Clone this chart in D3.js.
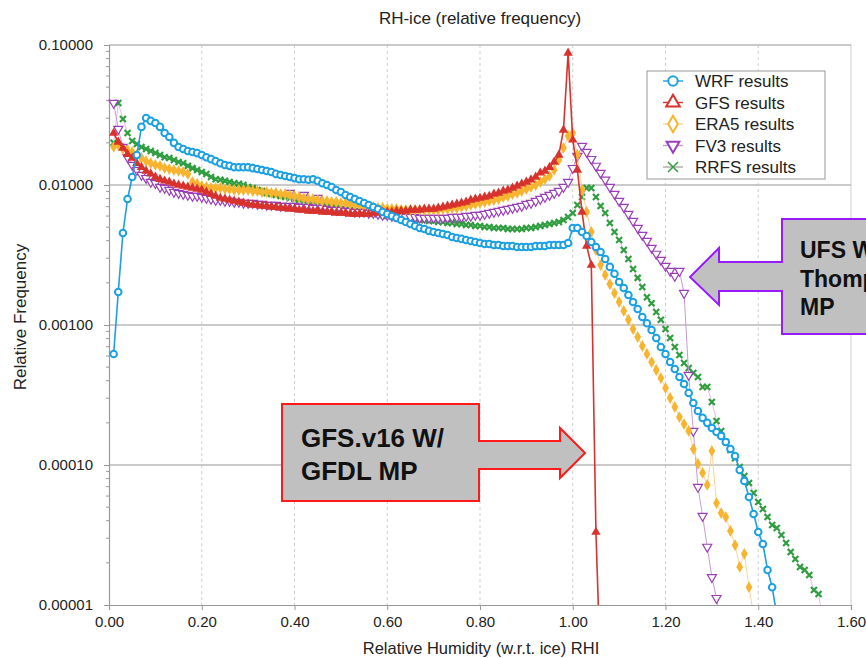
<!DOCTYPE html>
<html>
<head>
<meta charset="utf-8">
<script src="https://cdn.jsdelivr.net/npm/d3@7"></script>
<style>
  body { margin: 0; background: #fff; }
  text { font-family: "Liberation Sans", Arial, Helvetica, sans-serif; }
</style>
</head>
<body>
<svg id="chart" width="866" height="658"></svg>
<script>
// relative humidity w.r.t. ice, one bin per 0.01
const rhi = [
  0.01, 0.02, 0.03, 0.04, 0.05, 0.06, 0.07, 0.08, 0.09, 0.10,
  0.11, 0.12, 0.13, 0.14, 0.15, 0.16, 0.17, 0.18, 0.19, 0.20,
  0.21, 0.22, 0.23, 0.24, 0.25, 0.26, 0.27, 0.28, 0.29, 0.30,
  0.31, 0.32, 0.33, 0.34, 0.35, 0.36, 0.37, 0.38, 0.39, 0.40,
  0.41, 0.42, 0.43, 0.44, 0.45, 0.46, 0.47, 0.48, 0.49, 0.50,
  0.51, 0.52, 0.53, 0.54, 0.55, 0.56, 0.57, 0.58, 0.59, 0.60,
  0.61, 0.62, 0.63, 0.64, 0.65, 0.66, 0.67, 0.68, 0.69, 0.70,
  0.71, 0.72, 0.73, 0.74, 0.75, 0.76, 0.77, 0.78, 0.79, 0.80,
  0.81, 0.82, 0.83, 0.84, 0.85, 0.86, 0.87, 0.88, 0.89, 0.90,
  0.91, 0.92, 0.93, 0.94, 0.95, 0.96, 0.97, 0.98, 0.99, 1.00,
  1.01, 1.02, 1.03, 1.04, 1.05, 1.06, 1.07, 1.08, 1.09, 1.10,
  1.11, 1.12, 1.13, 1.14, 1.15, 1.16, 1.17, 1.18, 1.19, 1.20,
  1.21, 1.22, 1.23, 1.24, 1.25, 1.26, 1.27, 1.28, 1.29, 1.30,
  1.31, 1.32, 1.33, 1.34, 1.35, 1.36, 1.37, 1.38, 1.39, 1.40,
  1.41, 1.42, 1.43, 1.44, 1.45, 1.46, 1.47, 1.48, 1.49, 1.50,
  1.51, 1.52, 1.53, 1.54
];

const wrfResults = [
  0.000621, 0.00172, 0.00454, 0.00794, 0.0114, 0.0164, 0.0260, 0.0301, 0.0287, 0.0277,
  0.0260, 0.0235, 0.0220, 0.0200, 0.0187, 0.0181, 0.0175, 0.0172, 0.0169, 0.0164,
  0.0158, 0.0153, 0.0148, 0.0143, 0.0139, 0.0137, 0.0134, 0.0134, 0.0134, 0.0134,
  0.0132, 0.0130, 0.0128, 0.0126, 0.0124, 0.0120, 0.0118, 0.0116, 0.0114, 0.0112,
  0.0110, 0.0110, 0.0109, 0.0110, 0.0107, 0.0103, 0.0100, 0.00968, 0.00921, 0.00891,
  0.00848, 0.00821, 0.00794, 0.00769, 0.00744, 0.00720, 0.00697, 0.00674, 0.00642, 0.00621,
  0.00601, 0.00582, 0.00562, 0.00544, 0.00527, 0.00510, 0.00493, 0.00485, 0.00470, 0.00462,
  0.00454, 0.00447, 0.00439, 0.00425, 0.00418, 0.00412, 0.00405, 0.00398, 0.00392, 0.00385,
  0.00379, 0.00379, 0.00373, 0.00373, 0.00367, 0.00367, 0.00367, 0.00361, 0.00361, 0.00361,
  0.00361, 0.00367, 0.00367, 0.00367, 0.00373, 0.00373, 0.00373, 0.00373, 0.00385, 0.00493,
  0.00493, 0.00462, 0.00432, 0.00392, 0.00361, 0.00332, 0.00296, 0.00260, 0.00232, 0.00203,
  0.00184, 0.00164, 0.00146, 0.00130, 0.00114, 0.00103, 0.000921, 0.000807, 0.000697, 0.000621,
  0.000544, 0.000485, 0.000425, 0.000379, 0.000327, 0.000277, 0.000243, 0.000217, 0.000200, 0.000184,
  0.000172, 0.000161, 0.000146, 0.000130, 0.000116, 0.0000921, 0.0000769, 0.0000591, 0.0000447, 0.0000332,
  0.0000273, 0.0000178, 0.0000134, 0.0000085
];

const gfsResults = [
  0.0235, 0.0203, 0.0184, 0.0166, 0.0156, 0.0143, 0.0134, 0.0126, 0.0120, 0.0114,
  0.0110, 0.0107, 0.0105, 0.0102, 0.0100, 0.00984, 0.00968, 0.00952, 0.00936, 0.00921,
  0.00891, 0.00862, 0.00834, 0.00807, 0.00794, 0.00781, 0.00769, 0.00756, 0.00744, 0.00732,
  0.00720, 0.00720, 0.00708, 0.00708, 0.00697, 0.00697, 0.00685, 0.00685, 0.00674, 0.00674,
  0.00663, 0.00663, 0.00652, 0.00652, 0.00652, 0.00642, 0.00642, 0.00642, 0.00631, 0.00631,
  0.00631, 0.00621, 0.00621, 0.00621, 0.00621, 0.00621, 0.00631, 0.00631, 0.00642, 0.00642,
  0.00642, 0.00652, 0.00652, 0.00652, 0.00663, 0.00663, 0.00663, 0.00674, 0.00674, 0.00674,
  0.00685, 0.00697, 0.00708, 0.00720, 0.00732, 0.00744, 0.00756, 0.00781, 0.00794, 0.00807,
  0.00821, 0.00834, 0.00862, 0.00877, 0.00906, 0.00921, 0.00952, 0.00984, 0.0102, 0.0105,
  0.0109, 0.0114, 0.0122, 0.0126, 0.0134, 0.0146, 0.0164, 0.0247, 0.0877, 0.0210,
  0.0128, 0.00642, 0.00367, 0.00268, 0.0000332, 0.0000032
];

const era5Results = [
  0.0187, 0.0193, 0.0181, 0.0178, 0.0172, 0.0164, 0.0156, 0.0148, 0.0143, 0.0139,
  0.0137, 0.0132, 0.0130, 0.0128, 0.0126, 0.0124, 0.0120, 0.0105, 0.0102, 0.00984,
  0.00968, 0.00952, 0.00952, 0.00952, 0.00936, 0.00936, 0.00921, 0.00921, 0.00921, 0.00921,
  0.00906, 0.00906, 0.00891, 0.00891, 0.00877, 0.00877, 0.00862, 0.00862, 0.00848, 0.00834,
  0.00821, 0.00807, 0.00794, 0.00794, 0.00781, 0.00769, 0.00769, 0.00756, 0.00756, 0.00744,
  0.00744, 0.00732, 0.00720, 0.00720, 0.00708, 0.00697, 0.00697, 0.00685, 0.00685, 0.00674,
  0.00674, 0.00674, 0.00663, 0.00663, 0.00663, 0.00663, 0.00663, 0.00663, 0.00663, 0.00663,
  0.00663, 0.00674, 0.00674, 0.00685, 0.00685, 0.00697, 0.00708, 0.00720, 0.00732, 0.00744,
  0.00756, 0.00769, 0.00781, 0.00794, 0.00821, 0.00834, 0.00862, 0.00877, 0.00906, 0.00936,
  0.00968, 0.0100, 0.0105, 0.0110, 0.0116, 0.0128, 0.0151, 0.0184, 0.0224, 0.0235,
  0.0164, 0.00921, 0.00642, 0.00462, 0.00343, 0.00268, 0.00228, 0.00196, 0.00169, 0.00146,
  0.00126, 0.00109, 0.000936, 0.000821, 0.000708, 0.000621, 0.000544, 0.000477, 0.000418, 0.000355,
  0.000301, 0.000260, 0.000220, 0.000196, 0.000175, 0.000130, 0.000102, 0.0000877, 0.0000720, 0.000126,
  0.0000535, 0.0000454, 0.0000425, 0.0000338, 0.0000268, 0.0000187, 0.0000232, 0.0000134, 0.0000085
];

const fv3Results = [
  0.0385, 0.0251, 0.0187, 0.0158, 0.0139, 0.0128, 0.0118, 0.0112, 0.0105, 0.0103,
  0.00968, 0.00952, 0.00921, 0.00891, 0.00877, 0.00862, 0.00848, 0.00834, 0.00834, 0.00821,
  0.00807, 0.00794, 0.00781, 0.00781, 0.00769, 0.00769, 0.00756, 0.00756, 0.00744, 0.00744,
  0.00744, 0.00732, 0.00732, 0.00720, 0.00720, 0.00720, 0.00708, 0.00708, 0.00877, 0.00708,
  0.00697, 0.00848, 0.00697, 0.00685, 0.00807, 0.00685, 0.00674, 0.00663, 0.00663, 0.00663,
  0.00652, 0.00652, 0.00642, 0.00642, 0.00642, 0.00631, 0.00631, 0.00621, 0.00611, 0.00611,
  0.00601, 0.00601, 0.00591, 0.00591, 0.00591, 0.00591, 0.00582, 0.00582, 0.00582, 0.00582,
  0.00582, 0.00582, 0.00582, 0.00591, 0.00591, 0.00591, 0.00601, 0.00601, 0.00611, 0.00611,
  0.00621, 0.00631, 0.00642, 0.00652, 0.00663, 0.00674, 0.00685, 0.00697, 0.00708, 0.00732,
  0.00744, 0.00769, 0.00794, 0.00821, 0.00848, 0.00877, 0.00906, 0.00968, 0.0105, 0.0132,
  0.0161, 0.0190, 0.0172, 0.0153, 0.0137, 0.0122, 0.0109, 0.00968, 0.00862, 0.00769,
  0.00697, 0.00621, 0.00553, 0.00493, 0.00439, 0.00398, 0.00355, 0.00322, 0.00291, 0.00264,
  0.00243, 0.00224, 0.00243, 0.00169, 0.000439, 0.000175, 0.0000697, 0.0000432, 0.0000260, 0.0000158,
  0.0000112, 0.0000065
];

const rrfsResults = [
  0.0200, 0.0385, 0.0296, 0.0235, 0.0206, 0.0196, 0.0187, 0.0181, 0.0175, 0.0169,
  0.0164, 0.0158, 0.0156, 0.0151, 0.0146, 0.0143, 0.0137, 0.0132, 0.0128, 0.0124,
  0.0120, 0.0114, 0.0110, 0.0109, 0.0107, 0.0105, 0.0103, 0.0102, 0.0100, 0.00968,
  0.00952, 0.00921, 0.00906, 0.00877, 0.00862, 0.00848, 0.00834, 0.00821, 0.00807, 0.00794,
  0.00781, 0.00769, 0.00756, 0.00744, 0.00732, 0.00720, 0.00708, 0.00697, 0.00685, 0.00674,
  0.00663, 0.00663, 0.00652, 0.00642, 0.00642, 0.00631, 0.00621, 0.00621, 0.00611, 0.00601,
  0.00601, 0.00591, 0.00582, 0.00582, 0.00572, 0.00572, 0.00562, 0.00562, 0.00553, 0.00553,
  0.00544, 0.00544, 0.00535, 0.00535, 0.00527, 0.00527, 0.00518, 0.00518, 0.00510, 0.00510,
  0.00501, 0.00501, 0.00493, 0.00493, 0.00493, 0.00485, 0.00485, 0.00485, 0.00485, 0.00493,
  0.00493, 0.00501, 0.00510, 0.00518, 0.00527, 0.00535, 0.00544, 0.00562, 0.00591, 0.00631,
  0.00720, 0.00821, 0.00952, 0.00952, 0.00821, 0.00708, 0.00631, 0.00535, 0.00462, 0.00405,
  0.00343, 0.00296, 0.00251, 0.00217, 0.00187, 0.00158, 0.00143, 0.00124, 0.00109, 0.000936,
  0.000807, 0.000697, 0.000611, 0.000535, 0.000493, 0.000454, 0.000425, 0.000361, 0.000361, 0.000282,
  0.000206, 0.000175, 0.000146, 0.000128, 0.000112, 0.0000968, 0.0000834, 0.0000744, 0.0000631, 0.0000544,
  0.0000485, 0.0000425, 0.0000373, 0.0000355, 0.0000316, 0.0000277, 0.0000239, 0.0000213, 0.0000187, 0.0000178,
  0.0000164, 0.0000128, 0.0000120, 0.0000075
];

const xTicks = [0, 0.2, 0.4, 0.6, 0.8, 1.0, 1.2, 1.4, 1.6];
const yTicks = [0.00001, 0.0001, 0.001, 0.01, 0.1];

const svg = d3.select('#chart');
const plotLeft = 109, plotRight = 851, plotTop = 45, plotBottom = 605;

let x = d3.scaleLinear().domain([0, 1.6]).range([plotLeft, plotRight]);
let y = d3.scaleLog().domain([0.00001, 0.1]).range([plotBottom, plotTop]);

// grid
svg.append('g').selectAll('line')
    .data(xTicks.slice(1))
    .enter().append('line')
    .attr('x1', d => x(d)).attr('x2', d => x(d))
    .attr('y1', plotTop).attr('y2', plotBottom)
    .attr('stroke', '#cfcfcf')
    .attr('stroke-dasharray', d => d === 1.6 ? null : '3,3');

svg.append('g').selectAll('line')
    .data(yTicks.slice(1))
    .enter().append('line')
    .attr('x1', plotLeft).attr('x2', plotRight)
    .attr('y1', d => y(d)).attr('y2', d => y(d))
    .attr('stroke', '#b8b8b8')
    .attr('stroke-width', 1.3);

// axes
let xAxis = d3.axisBottom(x).tickValues(xTicks).tickFormat(d3.format('.2f')).tickSize(5).tickPadding(6);
let yAxis = d3.axisLeft(y).tickValues(yTicks).tickFormat(d3.format('.5f')).tickSize(5).tickPadding(11);

let gx = svg.append('g').attr('transform', 'translate(0,' + plotBottom + ')').call(xAxis);
let gy = svg.append('g').attr('transform', 'translate(' + plotLeft + ',0)').call(yAxis);
[gx, gy].forEach(function(g) {
    g.select('.domain').attr('stroke', '#999').attr('stroke-width', 1.2);
    g.selectAll('.tick line').attr('stroke', '#999');
    g.selectAll('.tick text').attr('fill', '#222').style('font-size', '15px');
});

// minor log ticks
let minor = [];
yTicks.slice(0, -1).forEach(function(d) {
    for (let k = 2; k < 10; k++) minor.push(d * k);
});
svg.append('g').selectAll('line')
    .data(minor)
    .enter().append('line')
    .attr('x1', plotLeft - 3).attr('x2', plotLeft)
    .attr('y1', d => y(d)).attr('y2', d => y(d))
    .attr('stroke', '#999');

// titles
svg.append('text').attr('x', 480).attr('y', 24).attr('text-anchor', 'middle')
    .style('font-size', '17px').attr('fill', '#222').text('RH-ice (relative frequency)');
svg.append('text').attr('x', 481).attr('y', 654).attr('text-anchor', 'middle')
    .style('font-size', '16.5px').attr('fill', '#222').text('Relative Humidity (w.r.t. ice) RHI');
svg.append('text').attr('transform', 'translate(26,317) rotate(-90)').attr('text-anchor', 'middle')
    .style('font-size', '17px').attr('fill', '#222').text('Relative Frequency');

// series
const series = [
    {name: 'RRFS results', values: rrfsResults, color: '#2e9e3e', lineColor: '#e2b4e2', lineWidth: 0.9, marker: 'x'},
    {name: 'FV3 results', values: fv3Results, color: '#9b3fb8', lineColor: '#c79ad6', lineWidth: 1, marker: 'down'},
    {name: 'ERA5 results', values: era5Results, color: '#f8b42e', lineColor: '#fbd598', lineWidth: 1, marker: 'diamond'},
    {name: 'GFS results', values: gfsResults, color: '#d8322c', lineColor: '#d8322c', lineWidth: 1.6, marker: 'up'},
    {name: 'WRF results', values: wrfResults, color: '#1ca0e4', lineColor: '#1ca0e4', lineWidth: 1.6, marker: 'circle'}
];

svg.append('clipPath').attr('id', 'plotClip')
    .append('rect').attr('x', plotLeft - 6).attr('y', plotTop - 8)
    .attr('width', plotRight - plotLeft + 12).attr('height', plotBottom - plotTop + 8);

function markerPath(type) {
    if (type === 'circle') return d3.symbol(d3.symbolCircle, 34)();
    if (type === 'up') return d3.symbol(d3.symbolTriangle, 38)();
    if (type === 'down') return d3.symbol(d3.symbolTriangle, 36)();
    if (type === 'diamond') return d3.symbol(d3.symbolDiamond, 40)();
    return 'M-3,-3L3,3M-3,3L3,-3';
}

function styleMarker(sel, s) {
    sel.attr('d', markerPath(s.marker));
    if (s.marker === 'circle') sel.attr('fill', '#fff').attr('stroke', s.color).attr('stroke-width', 2);
    else if (s.marker === 'down') sel.attr('fill', '#fff').attr('stroke', s.color).attr('stroke-width', 1.2);
    else if (s.marker === 'x') sel.attr('fill', 'none').attr('stroke', s.color).attr('stroke-width', 2.2);
    else sel.attr('fill', s.color).attr('stroke', 'none');
}

let line = d3.line().x(d => x(d.rh)).y(d => y(d.v));
let plot = svg.append('g').attr('clip-path', 'url(#plotClip)');

series.forEach(function(s) {
    let pts = s.values.map((v, i) => ({rh: rhi[i], v: v}));
    let g = plot.append('g');
    g.append('path').datum(pts)
        .attr('d', line)
        .attr('fill', 'none')
        .attr('stroke', s.lineColor)
        .attr('stroke-width', s.lineWidth);
    g.selectAll('.pt')
        .data(pts)
        .enter().append('path')
        .attr('class', 'pt')
        .attr('transform', d => 'translate(' + x(d.rh) + ',' + y(d.v) + ')' + (s.marker === 'down' ? ' rotate(180)' : ''))
        .call(styleMarker, s);
});

// legend
let legend = svg.append('g');
legend.append('rect').attr('x', 647).attr('y', 71).attr('width', 178).attr('height', 108)
    .attr('fill', '#fff').attr('stroke', '#999');
let legendOrder = series.slice().reverse();
legendOrder.forEach(function(s, i) {
    let ly = 81 + i * 21.5;
    legend.append('line').attr('x1', 663).attr('x2', 683).attr('y1', ly).attr('y2', ly)
        .attr('stroke', s.marker === 'x' ? '#aaa' : s.lineColor).attr('stroke-width', 1.4);
    let big = {circle: 70, up: 80, down: 70, diamond: 80}[s.marker];
    let m = legend.append('path')
        .attr('transform', 'translate(673,' + ly + ')' + (s.marker === 'down' ? ' rotate(180)' : ''));
    styleMarker(m, s);
    if (s.marker === 'x') m.attr('d', 'M-5,-5L5,5M-5,5L5,-5').attr('stroke-width', 1.5);
    else {
        let sym = {circle: d3.symbolCircle, up: d3.symbolTriangle, down: d3.symbolTriangle, diamond: d3.symbolDiamond}[s.marker];
        m.attr('d', d3.symbol(sym, big)()).attr('fill', '#fff').attr('stroke', s.color).attr('stroke-width', 2);
    }
    legend.append('text').attr('x', 695).attr('y', ly).attr('dy', '0.36em')
        .style('font-size', '17px').attr('fill', '#222').text(s.name);
});

// annotation arrows
svg.append('path')
    .attr('d', 'M282,404H479V441H560V428L585,453L560,478V469H479V501H282Z')
    .attr('fill', '#c0c0c0').attr('stroke', '#ff1a1a').attr('stroke-width', 2);
svg.append('text').attr('x', 301).attr('y', 447).style('font-size', '26px').style('font-weight', 'bold')
    .attr('fill', '#111').text('GFS.v16 W/');
svg.append('text').attr('x', 301).attr('y', 480).style('font-size', '26px').style('font-weight', 'bold')
    .attr('fill', '#111').text('GFDL MP');

svg.append('path')
    .attr('d', 'M782,219H880V334H782V291H719V305L690,277L719,248V262H782Z')
    .attr('fill', '#c0c0c0').attr('stroke', '#9a1aff').attr('stroke-width', 2);
['UFS W/', 'Thompson', 'MP'].forEach(function(t, i) {
    svg.append('text').attr('x', 800).attr('y', 258 + i * 28.5).style('font-size', '23px').style('font-weight', 'bold')
        .attr('fill', '#111').text(t);
});
</script>
</body>
</html>
